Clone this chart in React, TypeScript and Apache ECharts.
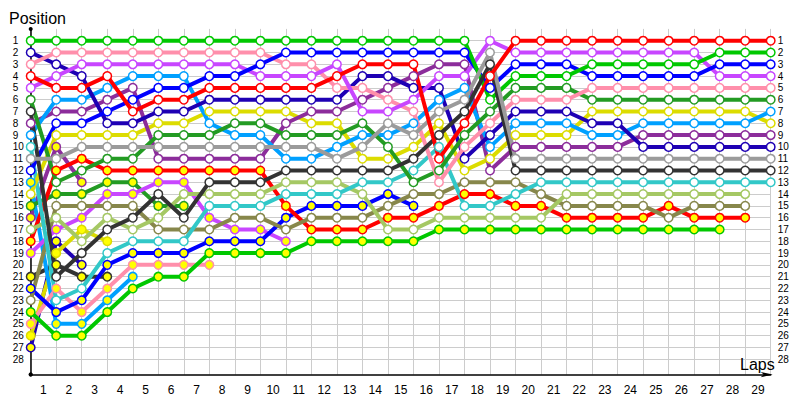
import React, { useEffect, useRef } from "react";
import * as echarts from "echarts";

// Lap numbers (lap 0 = starting grid) and labels
const laps = [0, 1, 2, 3, 4, 5, 6, 7, 8, 9, 10, 11, 12, 13, 14, 15, 16, 17, 18, 19, 20, 21, 22, 23, 24, 25, 26, 27, 28, 29];
const lapLabels = ["1", "2", "3", "4", "5", "6", "7", "8", "9", "10", "11", "12", "13", "14", "15", "16", "17", "18", "19", "20", "21", "22", "23", "24", "25", "26", "27", "28", "29"];
const positionLabels = ["1", "2", "3", "4", "5", "6", "7", "8", "9", "10", "11", "12", "13", "14", "15", "16", "17", "18", "19", "20", "21", "22", "23", "24", "25", "26", "27", "28"];

// Positions per lap (null = not running)
const posGreen = [1, 1, 1, 1, 1, 1, 1, 1, 1, 1, 1, 1, 1, 1, 1, 1, 1, 1, 6, 4, 4, 4, 3, 3, 3, 3, 3, 2, 2, 2];
const posNavy = [2, 3, 4, 8, 8, 7, 7, 6, 6, 6, 6, 6, 6, 4, 4, 5, 5, 11, 9, 7, 7, 7, 8, 8, 10, 10, 10, 10, 10, 10];
const posPink = [3, 2, 2, 2, 2, 2, 2, 2, 2, 2, 3, 3, 5, 5, 6, 7, 13, 10, 8, 6, 6, 6, 5, 5, 5, 5, 5, 5, 5, 5];
const posRed = [4, 5, 5, 4, 7, 6, 6, 5, 5, 5, 5, 5, 4, 3, 3, 3, 11, 8, 4, 1, 1, 1, 1, 1, 1, 1, 1, 1, 1, 1];
const posViolet = [5, 4, 3, 3, 3, 3, 3, 3, 3, 4, 4, 4, 3, 7, 7, 6, 4, 4, 1, 2, 2, 2, 2, 2, 2, 2, 2, 4, 4, 4];
const posDarkGreen = [6, 13, 12, 11, 11, 9, 9, 9, 8, 8, 9, 9, 9, 8, 10, 13, 12, 9, 7, 5, 5, 5, 6, 6, 6, 6, 6, 6, 6, 6];
const posDarkGray = [7, 21, 19, 17, 16, 14, 16, 13, 13, 13, 12, 12, 12, 12, 12, 11, 9, 7, 3, 12, 12, 12, 12, 12, 12, 12, 12, 12, 12, 12];
const posDarkPurple = [8, 7, 7, 6, 5, 11, 11, 11, 11, 11, 8, 7, 7, 6, 5, 4, 3, 3, 12, 10, 10, 10, 10, 10, 9, 9, 9, 9, 9, 9];
const posSkyBlue = [9, 6, 6, 5, 4, 4, 4, 8, 9, 9, 11, 11, 10, 9, 9, 8, 6, 5, 10, 8, 8, 8, 9, 9, 8, 8, 8, 8, 8, 7];
const posCyan = [10, 23, 22, 19, 18, 18, 18, 15, 15, 15, 14, 14, 14, 13, 13, 12, 10, 15, 15, 14, 13, 13, 13, 13, 13, 13, 13, 13, 13, 13];
const posGray = [11, 11, 10, 10, 10, 10, 10, 10, 10, 10, 10, 10, 11, 10, 8, 9, 7, 6, 2, 11, 11, 11, 11, 11, 11, 11, 11, 11, 11, 11];
const posBlue = [12, 8, 8, 7, 6, 5, 5, 4, 4, 3, 2, 2, 2, 2, 2, 2, 2, 2, 5, 3, 3, 3, 4, 4, 4, 4, 4, 3, 3, 3];
const posYellow = [14, 9, 9, 9, 9, 8, 8, 7, 7, 7, 7, 8, 8, 11, 11, 10, 8, 12, 11, 9, 9, 9, 7, 7, 7, 7, 7, 7, 7, 8];
const posLightGreen = [17, 16, 18, 16, 17, 16, 14, 14, 14, 14, 13, 13, 13, 14, 17, 17, 16, 16, 16, 16, 16, 14, 14, 14, 14, 14, 14, 14, 14, null];
const posOlive = [23, 15, 15, 15, 15, 17, 17, 17, 16, 16, 17, 16, 16, 16, 15, 14, 14, 13, 13, 13, 14, 15, 15, 15, 15, 16, 15, 15, 15, null];

const posRedB = [18, 12, 11, 12, 12, 12, 12, 12, 12, 12, 15, 17, 17, 17, 16, 16, 15, 14, 14, 15, 15, 16, 16, 16, 16, 15, 16, 16, 16, null];
const posGreenB = [24, 26, 26, 24, 22, 21, 21, 19, 19, 19, 19, 18, 18, 18, 18, 18, 17, 17, 17, 17, 17, 17, 17, 17, 17, 17, 17, 17, null, null];
const posBlueB = [22, 24, 23, 20, 19, 19, 19, 18, 18, 18, 16, 15, 15, 15, 14, 15];
const posVioletB = [19, 17, 16, 14, 14, 13, 13, 16, 17, 17, 18];
const posDarkGreenB = [15, 14, 14, 13, 13, 15, 15];
const posPinkB = [25, 22, 24, 22, 20, 20, 20, 20];
const posSkyBlueB = [13, 25, 25, 23, 21];
const posDarkGrayB = [21, 20, 21, 21];
const posYellowB = [26, 19, 17, 18];
const posNavyB = [27, 18, 20];
const posDarkPurpleB = [16, 10, 13];

const WHITE = "#ffffff";
const YELLOW = "#ffff00";

const drivers = [
  { name: "Navy B", color: "#1e00b4", fill: YELLOW, pos: posNavyB },
  { name: "Dark purple B", color: "#8c2d9b", fill: YELLOW, pos: posDarkPurpleB },
  { name: "Dark gray B", color: "#333333", fill: YELLOW, pos: posDarkGrayB },
  { name: "Yellow B", color: "#dcdc00", fill: YELLOW, pos: posYellowB },
  { name: "Sky blue B", color: "#00a0ff", fill: YELLOW, pos: posSkyBlueB },
  { name: "Dark green B", color: "#239b23", fill: YELLOW, pos: posDarkGreenB },
  { name: "Pink B", color: "#ff8fab", fill: YELLOW, pos: posPinkB },
  { name: "Violet B", color: "#c846ff", fill: YELLOW, pos: posVioletB },
  { name: "Blue B", color: "#0000ff", fill: YELLOW, pos: posBlueB },
  { name: "Green B", color: "#00c800", fill: YELLOW, pos: posGreenB },
  { name: "Red B", color: "#ff0000", fill: YELLOW, pos: posRedB },
  { name: "Olive", color: "#87874b", fill: WHITE, pos: posOlive },
  { name: "Light green", color: "#a5c864", fill: WHITE, pos: posLightGreen },
  { name: "Cyan", color: "#32c8c8", fill: WHITE, pos: posCyan },
  { name: "Yellow", color: "#dcdc00", fill: WHITE, pos: posYellow },
  { name: "Dark purple", color: "#8c2d9b", fill: WHITE, pos: posDarkPurple },
  { name: "Sky blue", color: "#00a0ff", fill: WHITE, pos: posSkyBlue },
  { name: "Navy", color: "#1e00b4", fill: WHITE, pos: posNavy },
  { name: "Dark green", color: "#239b23", fill: WHITE, pos: posDarkGreen },
  { name: "Pink", color: "#ff8fab", fill: WHITE, pos: posPink },
  { name: "Violet", color: "#c846ff", fill: WHITE, pos: posViolet },
  { name: "Blue", color: "#0000ff", fill: WHITE, pos: posBlue },
  { name: "Green", color: "#00c800", fill: WHITE, pos: posGreen },
  { name: "Dark gray", color: "#333333", fill: WHITE, pos: posDarkGray },
  { name: "Gray", color: "#9b9b9b", fill: WHITE, pos: posGray },
  { name: "Red", color: "#ff0000", fill: WHITE, pos: posRed },
];

const FONT = "Liberation Sans";

export default function App() {
  const ref = useRef<HTMLDivElement>(null);

  useEffect(() => {
    if (!ref.current) return;
    const chart = echarts.init(ref.current, undefined, { renderer: "svg" });

    const yGridColors: string[] = [];
    for (let i = 0; i <= 30; i++) {
      yGridColors.push(i >= 1 && i <= positionLabels.length ? "#cccccc" : "rgba(0,0,0,0)");
    }
    const yLabel = (v: number) =>
      Number.isInteger(v) && v >= 1 && v <= positionLabels.length ? positionLabels[v - 1] : "";

    const series = drivers.map((d) => ({
      type: "line",
      name: d.name,
      data: laps
        .filter((l) => l < d.pos.length)
        .map((l) => (d.pos[l] == null ? [l, "-"] : [l, d.pos[l]])),
      symbol: "circle",
      symbolSize: 8.5,
      showAllSymbol: true,
      connectNulls: false,
      lineStyle: { color: d.color, width: 4 },
      itemStyle: { color: d.fill, borderColor: d.color, borderWidth: 1.5 },
      emphasis: { disabled: true },
      silent: true,
    }));

    chart.setOption({
      animation: false,
      title: {
        text: "Position",
        left: 4,
        top: 5,
        textStyle: { fontFamily: FONT, fontSize: 16, fontWeight: "normal", color: "#000" },
      },
      grid: {
        left: 30.7,
        right: 29.3,
        top: 28.9,
        bottom: 25.4,
        containLabel: false,
        outerBoundsMode: "none",
      },
      xAxis: {
        type: "value",
        position: "bottom",
        min: 0,
        max: 29,
        interval: 1,
        name: "Laps",
        nameLocation: "end",
        nameGap: 4,
        nameMoveOverlap: false,
        nameTextStyle: {
          fontFamily: FONT,
          fontSize: 16,
          color: "#000",
          align: "right",
          verticalAlign: "bottom",
          padding: [0, 0, 2, 0],
        },
        axisLine: {
          show: true,
          onZero: false,
          lineStyle: { color: "#000", width: 1.5 },
          symbol: ["circle", "arrow"],
          symbolSize: [4, 12],
          symbolOffset: [0, 2],
        },
        axisTick: { show: false },
        axisLabel: {
          fontFamily: FONT,
          fontSize: 12,
          color: "#000",
          margin: 9,
          padding: [0, 0, 0, 25.5],
          formatter: (v: number) =>
            Number.isInteger(v) && v >= 0 && v < lapLabels.length ? lapLabels[v] : "",
        },
        splitLine: { show: true, lineStyle: { color: "#cccccc", width: 1 } },
      },
      yAxis: [
        {
          type: "value",
          inverse: true,
          min: 0,
          max: 29.3,
          interval: 1,
          position: "left",
          axisLine: {
            show: true,
            onZero: false,
            lineStyle: { color: "#000", width: 1.5 },
            symbol: ["circle", "circle"],
            symbolSize: [4, 4],
          },
          axisTick: { show: false },
          axisLabel: {
            fontFamily: FONT,
            fontSize: 10,
            color: "#000",
            align: "left",
            margin: 18,
            formatter: yLabel,
          },
          splitLine: { show: true, lineStyle: { color: yGridColors, width: 1 } },
        },
        {
          type: "value",
          inverse: true,
          min: 0,
          max: 29.3,
          interval: 1,
          position: "right",
          axisLine: { show: false, onZero: false },
          axisTick: { show: false },
          axisLabel: {
            fontFamily: FONT,
            fontSize: 10,
            color: "#000",
            align: "left",
            margin: 7,
            formatter: yLabel,
          },
          splitLine: { show: false },
        },
      ],
      series,
    });

    return () => chart.dispose();
  }, []);

  return (
    <div
      ref={ref}
      style={{ position: "fixed", left: 0, top: 0, width: 800, height: 400, background: "#fff" }}
    />
  );
}
